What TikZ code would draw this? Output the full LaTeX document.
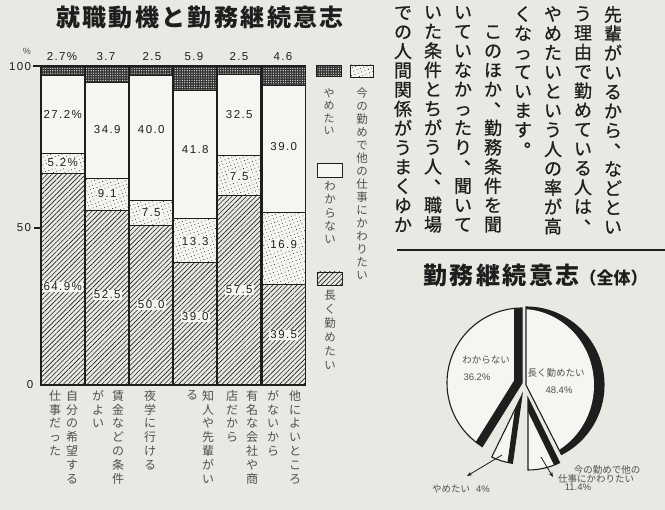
\documentclass[tikz,border=0pt]{standalone}
\usepackage{fontspec}
\setmainfont{Liberation Sans}
\newfontfamily\jp{Noto Sans CJK JP}
\newfontfamily\jpb[FakeBold=0.7]{Noto Sans CJK JP}
\newfontfamily\jpt[LetterSpace=10]{Noto Sans CJK JP}
\newfontfamily\numf[LetterSpace=12]{Liberation Sans}
\usetikzlibrary{patterns.meta,arrows.meta}
\definecolor{paper}{RGB}{234,232,226}
\definecolor{paperw}{RGB}{246,245,241}
\definecolor{ink}{RGB}{30,30,30}
\definecolor{inkl}{RGB}{80,80,80}
\definecolor{darkcell}{RGB}{50,50,50}
\makeatletter
\def\vt@end{\vt@end}
\newcommand\vt[1]{\vt@first#1\vt@end}
\def\vt@first#1{\vt@ch{#1}\vt@loop}
\def\vt@loop#1{\ifx#1\vt@end\else\\\vt@ch{#1}\expandafter\vt@loop\fi}
\def\vt@ch#1{\if#1、\vt@p{#1}\else\if#1。\vt@p{#1}\else#1\fi\fi}
\def\vt@p#1{\makebox[1em][l]{\hspace{0.55em}\raisebox{0.5em}[0pt][0pt]{#1}}}
\newcommand\vtx[1]{\expandafter\vt\expandafter{#1}}
\makeatother
\begin{document}
\begin{tikzpicture}[x=1pt,y=-1pt,
  cellline/.style={draw=ink,line width=0.9pt},
  hatchcell/.style={cellline,preaction={fill=paper},pattern={Lines[angle=45,distance=3.4pt,line width=0.6pt]},pattern color=ink},
  dotcell/.style={cellline,preaction={fill=paperw},pattern={Dots[distance=3.6pt,radius=0.5pt,angle=20]},pattern color=ink},
  darkcell/.style={cellline,preaction={fill=darkcell},pattern={Dots[distance=2.4pt,radius=0.6pt]},pattern color=paperw},
  whitecell/.style={cellline,fill=paperw},
  barline/.style={draw=ink,line width=1.4pt},
  num/.style={font=\numf\fontsize{11.5}{12}\selectfont,text=ink,inner sep=1pt},
  numbg/.style={num,fill=paperw},
  vtxt/.style={align=center,inner sep=0pt,anchor=north},
  catfont/.style={font=\jp\fontsize{12}{13.8}\selectfont,text=inkl},
  bodyfont/.style={font=\jpb\fontsize{18}{19.3}\selectfont,text=ink},
  pielbl/.style={font=\jp\fontsize{9.5}{10}\selectfont,text=inkl,inner sep=0.5pt},
  pienum/.style={font=\fontsize{9.5}{10}\selectfont,text=inkl,inner sep=0.5pt},
  pieline/.style={draw=ink,line width=1.1pt}
]
\useasboundingbox (0,0) rectangle (665,510);
\fill[paper] (0,0) rectangle (665,510);

% title
\node[font=\jpt\bfseries\fontsize{24}{26}\selectfont,text=ink] (title) at (200,17) {就職動機と勤務継続意志};

% bars
\foreach \bi/\bl/\yd/\yw/\yt in {1/41/75/153/173, 2/85.5/82/178/210, 3/129.5/75/200/225, 4/173.5/90/218/262, 5/217.5/74/155/195, 6/262/85/212/284}{
  \pgfmathsetmacro\br{\bl+43.5}
  \path[hatchcell] (\bl,\yt) rectangle (\br,385);
  \path[dotcell] (\bl,\yw) rectangle (\br,\yt);
  \path[whitecell] (\bl,\yd) rectangle (\br,\yw);
  \path[darkcell] (\bl,66) rectangle (\br,\yd);
  \draw[barline] (\bl,66) rectangle (\br,385);
}
\draw[line width=1.3pt,ink] (33,66) -- (305.5,66);
\draw[line width=1.2pt,ink] (34,228) -- (41,228);

% axis labels
\node[num] (ax100) at (20,67) {100};
\node[font=\fontsize{9}{9}\selectfont,text=inkl] (axpc) at (27,51) {\%};
\node[num] (ax50) at (24,228) {50};
\node[num] (ax0) at (30,385) {0};

% top values
\node[num] (t1) at (62,57) {2.7\%};
\node[num] (t2) at (106,57) {3.7};
\node[num] (t3) at (152,57) {2.5};
\node[num] (t4) at (194,57) {5.9};
\node[num] (t5) at (239,57) {2.5};
\node[num] (t6) at (283,57) {4.6};
% white segment values
\node[num] (w1) at (62.75,115) {27.2\%};
\node[num] (w2) at (107.25,130) {34.9};
\node[num] (w3) at (151.25,130) {40.0};
\node[num] (w4) at (195.25,150) {41.8};
\node[num] (w5) at (239.25,115) {32.5};
\node[num] (w6) at (283.75,147) {39.0};
% dotted segment values
\node[numbg] (d1) at (62.75,163) {5.2\%};
\node[numbg] (d2) at (107.25,194) {9.1};
\node[numbg] (d3) at (151.25,213) {7.5};
\node[numbg] (d4) at (195.25,242) {13.3};
\node[numbg] (d5) at (239.25,177) {7.5};
\node[numbg] (d6) at (283.75,245) {16.9};
% hatched segment values
\node[numbg] (h1) at (62.75,287) {64.9\%};
\node[numbg] (h2) at (107.25,295) {52.5};
\node[numbg] (h3) at (151.25,305) {50.0};
\node[numbg] (h4) at (195.25,317) {39.0};
\node[numbg] (h5) at (239.25,290) {57.5};
\node[numbg] (h6) at (283.75,335) {39.5};

% category labels
\foreach \cx/\txt in {72/自分の希望する, 55/仕事だった, 118/賃金などの条件, 98/がよい, 150/夜学に行ける, 208/知人や先輩がい, 192/る, 252/有名な会社や商, 232/店だから, 295/他によいところ, 273/がないから}
  \node[vtxt,catfont] (cat\cx) at (\cx,390) {\vtx{\txt}};

% legend
\path[darkcell] (316,65) rectangle (341,76);
\path[dotcell] (350,65) rectangle (373,77);
\path[whitecell] (317,163) rectangle (342,177);
\path[hatchcell] (317,272) rectangle (342,285);
\node[vtxt,font=\jp\fontsize{11}{12.5}\selectfont,text=inkl] (lg1) at (329,88) {\vt{やめたい}};
\node[vtxt,font=\jp\fontsize{11.5}{13}\selectfont,text=inkl] (lg2) at (362,88) {\vt{今の勤めで他の仕事にかわりたい}};
\node[vtxt,font=\jp\fontsize{11.5}{13.4}\selectfont,text=inkl] (lg3) at (330,181) {\vt{わからない}};
\node[vtxt,font=\jp\fontsize{11.5}{14}\selectfont,text=inkl] (lg4) at (330,290) {\vt{長く勤めたい}};

% body text
\foreach \cx/\cy/\txt in {613/6/先輩がいるから、などとい, 583/6/う理由で勤めている人は、, 553/6/やめたいという人の率が高, 523/6/くなっています。, 493/25.3/このほか、勤務条件を聞, 463/6/いていなかったり、聞いて, 433/6/いた条件とちがう人、職場, 403/6/での人間関係がうまくゆか}
  \node[vtxt,bodyfont] (body\cx) at (\cx,\cy) {\vtx{\txt}};
\draw[line width=2.2pt,ink] (397,250) -- (665,250);

% pie title
\node[anchor=west,font=\jpt\bfseries\fontsize{24}{26}\selectfont,text=ink] (ptitle) at (420,275) {勤務継続意志{\jp\fontsize{17}{18}\selectfont （全体）}};

% pie
\begin{scope}[shift={(522,383)},y=1pt]
  % wakaranai
  \fill[paperw] (0,0) -- (90:75) arc[start angle=90,end angle=238,radius=75] -- cycle;
  \begin{scope}
    \clip (0,0) -- (90:75) arc[start angle=90,end angle=238,radius=75] -- cycle;
    \draw[ink,line width=16pt] (90:85) -- (0,0) -- (238:85);
  \end{scope}
  \draw[pieline] (0,0) -- (90:75) arc[start angle=90,end angle=238,radius=75] -- cycle;
  % nagaku
  \fill[ink] (4,-2) -- ++(90:78) arc[start angle=90,end angle=-63,radius=78] -- cycle;
  \begin{scope}
    \clip (4,-2) -- ++(90:78) arc[start angle=90,end angle=-63,radius=78] -- cycle;
    \fill[paperw] (-1,-2) ellipse[x radius=73,y radius=76];
  \end{scope}
  \draw[pieline] (4,-2) -- ++(90:78) arc[start angle=90,end angle=-63,radius=78] -- cycle;
  % kawaritai
  \fill[paperw] (6,-15) -- ++(-90:72) arc[start angle=-90,end angle=-64,radius=72] -- cycle;
  \begin{scope}
    \clip (6,-15) -- ++(-90:72) arc[start angle=-90,end angle=-64,radius=72] -- cycle;
    \draw[ink,line width=12pt] (6,-15) -- ++(-64:85);
  \end{scope}
  \draw[pieline] (6,-15) -- ++(-90:72) arc[start angle=-90,end angle=-64,radius=72] -- cycle;
  % yametai
  \fill[paperw] (0,-12) -- ++(244:69) arc[start angle=244,end angle=262,radius=69] -- cycle;
  \begin{scope}
    \clip (0,-12) -- ++(244:69) arc[start angle=244,end angle=262,radius=69] -- cycle;
    \draw[ink,line width=10pt] (0,-12) -- ++(262:80);
  \end{scope}
  \draw[pieline] (0,-12) -- ++(244:69) arc[start angle=244,end angle=262,radius=69] -- cycle;
  % labels
  \node[pielbl] (pwl) at (-36,23) {わからない};
  \node[pienum] (pwn) at (-45,6) {36.2\%};
  \node[pielbl] (pnl) at (34,10) {長く勤めたい};
  \node[pienum] (pnn) at (37,-7) {48.4\%};
  \node[pielbl] (pkl1) at (85,-87) {今の勤めで他の};
  \node[pielbl] (pkl2) at (74,-96) {仕事にかわりたい};
  \node[pienum] (pkn) at (56,-104) {11.4\%};
  \node[pielbl] (pyl) at (-61,-106) {やめたい\hspace{6pt}{\rmfamily 4\%}};
  \coordinate (yS) at (-20,-72);
  \coordinate (yE) at (-55,-93);
  \coordinate (kS) at (19,-74);
  \coordinate (kE) at (31,-94);
  \draw[ink,line width=0.8pt,-{Stealth[length=5pt,width=4pt]}] (yS) -- (yE);
  \draw[ink,line width=0.8pt,-{Stealth[length=5pt,width=4pt]}] (kS) -- (kE);
\end{scope}
\end{tikzpicture}
\end{document}
